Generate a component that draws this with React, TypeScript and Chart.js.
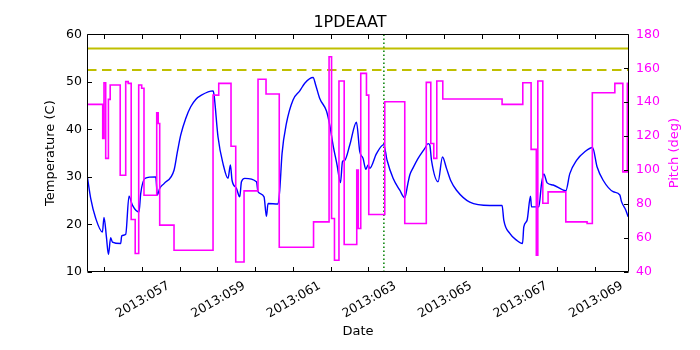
import React, { useEffect, useRef } from 'react';
import { Chart, registerables } from 'chart.js';

Chart.register(...registerables);

// ---- data ----
const X_MIN = 55.55;
const X_MAX = 69.9;

const xTickDays = [56, 57, 58, 59, 60, 61, 62, 63, 64, 65, 66, 67, 68, 69];
const xTickLabels = ['', '2013:057', '', '2013:059', '', '2013:061', '', '2013:063', '', '2013:065', '', '2013:067', '', '2013:069'];
const tempTicks = [10, 20, 30, 40, 50, 60];
const pitchTicks = [40, 60, 80, 100, 120, 140, 160, 180];

const tempDays = [
  55.56, 55.648, 55.78, 55.958, 56.0, 56.064, 56.117, 56.177, 56.222, 56.442, 56.469, 56.575, 56.662, 56.752,
  56.927, 56.972, 57.086, 57.369, 57.414, 57.475, 57.589, 57.854, 57.944, 58.031, 58.164, 58.296, 58.429, 58.579,
  58.887, 58.913, 59.019, 59.151, 59.284, 59.347, 59.39, 59.506, 59.594, 59.639, 59.726, 60.036, 60.078, 60.237,
  60.301, 60.343, 60.608, 60.653, 60.714, 60.831, 61.005, 61.183, 61.315, 61.535, 61.606, 61.712, 61.89, 61.977,
  62.065, 62.171, 62.261, 62.314, 62.374, 62.507, 62.684, 62.772, 62.859, 62.931, 62.992, 63.037, 63.214, 63.407,
  63.495, 63.654, 63.831, 63.963, 64.043, 64.096, 64.183, 64.308, 64.493, 64.581, 64.626, 64.671, 64.845, 64.962,
  65.068, 65.182, 65.333, 65.685, 66.215, 66.54, 66.585, 66.744, 66.922, 67.081, 67.115, 67.202, 67.292, 67.319,
  67.512, 67.584, 67.645, 67.732, 67.891, 68.227, 68.333, 68.511, 68.73, 68.934, 69.056, 69.215, 69.48, 69.657,
  69.702, 69.816, 69.877,
];
const tempValues = [
  30.0, 25.5, 21.3, 18.4, 21.5, 17.4, 13.7, 17.2, 16.3, 16.0, 17.6, 17.95, 25.95, 24.05,
  22.6, 26.5, 29.7, 30.0, 26.2, 27.6, 28.6, 31.4, 35.3, 38.8, 42.3, 44.75, 46.3, 47.2,
  48.1, 47.3, 38.4, 32.8, 29.7, 32.5, 29.3, 27.6, 25.8, 29.0, 29.7, 29.0, 26.9, 25.8,
  21.7, 24.4, 24.3, 27.2, 34.9, 41.3, 46.2, 48.1, 49.7, 50.9, 49.3, 46.5, 43.85, 40.9,
  36.7, 32.5, 28.8, 33.2, 33.5, 36.7, 41.5, 35.3, 33.9, 31.6, 32.5, 31.8, 34.9, 36.8,
  33.5, 29.7, 27.2, 25.6, 28.5, 30.4, 31.9, 33.8, 36.0, 37.0, 36.7, 33.5, 29.0, 34.2,
  31.8, 29.2, 27.2, 24.7, 24.0, 24.0, 20.9, 18.1, 16.7, 16.0, 19.5, 20.9, 25.95, 23.7,
  23.7, 28.6, 30.6, 28.75, 28.3, 27.1, 30.7, 33.5, 35.3, 36.2, 32.1, 29.3, 26.9, 26.2,
  24.8, 23.0, 21.6,
];

const pitchDays = [
  55.55, 55.966, 56.0, 56.045, 56.117, 56.164, 56.429, 56.575, 56.641, 56.72, 56.826, 56.919, 56.998, 57.059,
  57.396, 57.435, 57.475, 57.854, 58.887, 59.038, 59.363, 59.488, 59.708, 60.078, 60.29, 60.64, 61.548, 61.959,
  62.025, 62.102, 62.221, 62.359, 62.692, 62.732, 62.798, 62.949, 63.01, 63.434, 63.963, 64.533, 64.652, 64.731,
  64.811, 64.97, 66.54, 67.088, 67.308, 67.446, 67.486, 67.618, 67.758, 68.227, 68.791, 68.929, 69.525, 69.737,
  69.856, 69.9,
];
const pitchValues = [
  138.7, 118.7, 151.5, 106.9, 141.7, 150.1, 97.0, 152.1, 151.1, 70.9, 50.9, 150.1, 148.2, 85.2,
  133.8, 127.5, 67.6, 52.8, 144.2, 151.1, 114.1, 45.9, 87.8, 153.5, 144.8, 54.6, 69.5, 166.8,
  71.5, 46.9, 152.5, 56.2, 100.0, 65.6, 157.0, 144.2, 73.9, 140.3, 68.6, 151.7, 115.7, 106.9,
  152.5, 141.9, 138.7, 151.5, 112.2, 49.9, 152.5, 80.5, 87.2, 69.5, 68.6, 145.6, 151.1, 99.0,
  151.1, 151.1,
];

const tempLimitHigh = 57;
const tempLimitLow = 52.5;
const eventDay = 63.41;

const FONT = '"DejaVu Sans", sans-serif';
const MAGENTA = '#ff00ff';

const frameTicksPlugin = {
  id: 'frameTicks',
  afterDraw(chart: any) {
    const { ctx, chartArea, scales } = chart;
    const { left, right, top, bottom } = chartArea;
    ctx.save();
    ctx.strokeStyle = '#000';
    ctx.lineWidth = 1;
    ctx.beginPath();
    const L = Math.round(left) + 0.5;
    const R = Math.round(right) - 0.5;
    const T = Math.round(top) + 0.5;
    const B = Math.round(bottom) - 0.5;
    ctx.moveTo(L, T);
    ctx.lineTo(R, T);
    ctx.lineTo(R, B);
    ctx.lineTo(L, B);
    ctx.closePath();
    xTickDays.forEach((v) => {
      const px = Math.round(scales.x.getPixelForValue(v)) + 0.5;
      ctx.moveTo(px, B);
      ctx.lineTo(px, B - 4.5);
      ctx.moveTo(px, T);
      ctx.lineTo(px, T + 4.5);
    });
    tempTicks.forEach((v) => {
      const py = Math.round(scales.y.getPixelForValue(v)) + 0.5;
      ctx.moveTo(L, py);
      ctx.lineTo(L + 4.5, py);
    });
    pitchTicks.forEach((v) => {
      const py = Math.round(scales.y2.getPixelForValue(v)) + 0.5;
      ctx.moveTo(R, py);
      ctx.lineTo(R - 4.5, py);
    });
    ctx.stroke();

    ctx.translate(675, (top + bottom) / 2);
    ctx.rotate(-Math.PI / 2);
    ctx.fillStyle = MAGENTA;
    ctx.font = '13px ' + FONT;
    ctx.textAlign = 'center';
    ctx.textBaseline = 'middle';
    ctx.fillText('Pitch (deg)', 0, 0);
    ctx.restore();
  },
};

const pts = (xs: number[], ys: number[]) => xs.map((x, i) => ({ x, y: ys[i] }));

export default function App() {
  const ref = useRef<HTMLCanvasElement | null>(null);

  useEffect(() => {
    if (!ref.current) return;
    Chart.defaults.font.family = FONT;
    const chart = new Chart(ref.current, {
      type: 'line',
      data: {
        datasets: [
          {
            data: pts(pitchDays, pitchValues),
            yAxisID: 'y2',
            borderColor: MAGENTA,
            borderWidth: 1.6,
            stepped: 'before',
            pointRadius: 0,
            fill: false,
          },
          {
            data: pts(tempDays, tempValues),
            yAxisID: 'y',
            borderColor: '#0000ff',
            borderWidth: 1.4,
            pointRadius: 0,
            cubicInterpolationMode: 'monotone',
            fill: false,
          },
          {
            data: [{ x: X_MIN, y: tempLimitHigh }, { x: X_MAX, y: tempLimitHigh }],
            yAxisID: 'y',
            borderColor: '#bfbf00',
            borderWidth: 2,
            pointRadius: 0,
          },
          {
            data: [{ x: X_MIN, y: tempLimitLow }, { x: X_MAX, y: tempLimitLow }],
            yAxisID: 'y',
            borderColor: '#bfbf00',
            borderWidth: 2,
            borderDash: [9.5, 5.5],
            pointRadius: 0,
          },
          {
            data: [{ x: eventDay, y: 10 }, { x: eventDay, y: 60 }],
            yAxisID: 'y',
            borderColor: '#008000',
            borderWidth: 1.5,
            borderDash: [1.5, 2.5],
            pointRadius: 0,
          },
        ],
      },
      options: {
        animation: false,
        responsive: false,
        events: [],
        layout: { padding: 0 },
        plugins: {
          legend: { display: false },
          tooltip: { enabled: false },
          title: {
            display: true,
            text: '1PDEAAT',
            color: '#000',
            font: { size: 16, weight: 'normal', family: FONT },
            padding: { top: 13, bottom: 2.1 },
          },
        },
        scales: {
          x: {
            type: 'linear',
            position: 'bottom',
            min: X_MIN,
            max: X_MAX,
            afterBuildTicks: (s: any) => {
              s.ticks = xTickDays.map((v) => ({ value: v }));
            },
            afterFit: (s: any) => {
              s.height = 78;
            },
            grid: { display: false, drawTicks: false },
            border: { display: false },
            ticks: {
              autoSkip: false,
              minRotation: 30,
              maxRotation: 30,
              padding: 6.5,
              labelOffset: 27,
              color: '#000',
              font: { size: 12.5, family: FONT },
              callback: (_v: any, i: number) => xTickLabels[i] ?? '',
            },
            title: {
              display: true,
              text: 'Date',
              color: '#000',
              font: { size: 13, family: FONT },
              padding: { top: 0, bottom: 11 },
            },
          },
          y: {
            type: 'linear',
            position: 'left',
            min: 10,
            max: 60,
            afterBuildTicks: (s: any) => {
              s.ticks = tempTicks.map((v) => ({ value: v }));
            },
            afterFit: (s: any) => {
              s.width = 87;
            },
            grid: { display: false, drawTicks: false },
            border: { display: false },
            ticks: { padding: 5, color: '#000', font: { size: 12.5, family: FONT } },
            title: {
              display: true,
              text: 'Temperature (C)',
              color: '#000',
              font: { size: 13, family: FONT },
              padding: { top: 43, bottom: 0 },
            },
          },
          y2: {
            type: 'linear',
            position: 'right',
            min: 40,
            max: 180,
            afterBuildTicks: (s: any) => {
              s.ticks = pitchTicks.map((v) => ({ value: v }));
            },
            afterFit: (s: any) => {
              s.width = 71;
            },
            grid: { display: false, drawTicks: false },
            border: { display: false },
            ticks: { padding: 7, color: MAGENTA, font: { size: 12.5, family: FONT } },
          },
        },
      } as any,
      plugins: [frameTicksPlugin],
    });
    return () => chart.destroy();
  }, []);

  return (
    <div style={{ position: 'absolute', left: 0, top: 0, width: 700, height: 350, background: '#fff' }}>
      <canvas ref={ref} width={700} height={350} style={{ display: 'block', width: 700, height: 350 }} />
    </div>
  );
}
